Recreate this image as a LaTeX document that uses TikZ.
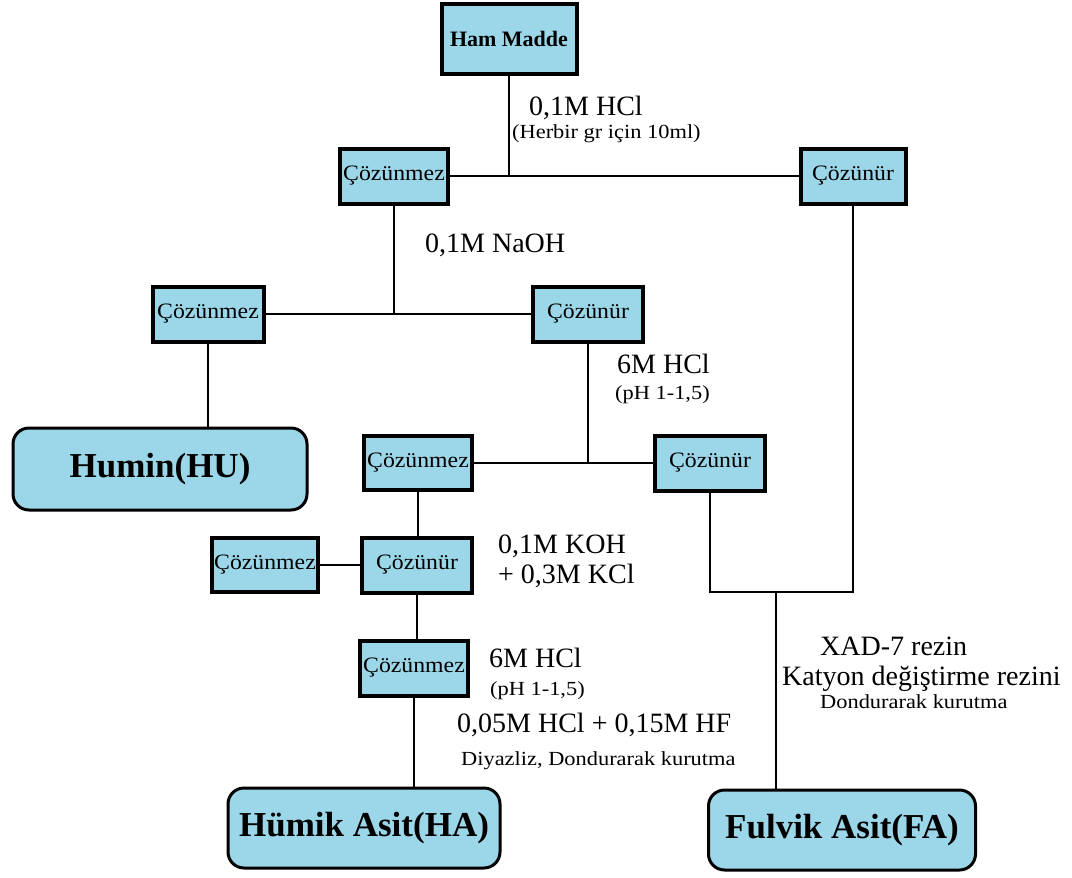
\documentclass[tikz,border=0pt]{standalone}
\usepackage{fontspec}
\setmainfont{Liberation Serif}
\newfontfamily\widefont[FakeStretch=1.12]{Liberation Serif}
\newfontfamily\boxfont[FakeStretch=1.08]{Liberation Serif}
\definecolor{boxblue}{RGB}{155,215,232}
\begin{document}
\begin{tikzpicture}[x=1pt,y=-1pt,
  box/.style={draw, line width=4pt, fill=boxblue, minimum width=108pt, minimum height=55pt, inner sep=0pt, font=\boxfont\fontsize{22}{24}\selectfont},
  final/.style={draw, line width=3pt, fill=boxblue, rounded corners=16pt, inner sep=0pt, font=\bfseries\fontsize{35}{40}\selectfont},
  lbl/.style={anchor=base west, inner sep=0pt, font=\fontsize{28}{32}\selectfont},
  sm/.style={anchor=base west, inner sep=0pt, font=\widefont\fontsize{20}{22}\selectfont},
  conn/.style={line width=2.5pt}]
\useasboundingbox (0,0) rectangle (1072,878);
% nodes
\node[box, minimum width=135pt, minimum height=70pt, font=\bfseries\fontsize{22}{26}\selectfont] (ham) at (509,39) {Ham Madde};
\node[box] (cz1) at (394,176) {Çözünmez};
\node[box, minimum width=105pt] (cr1) at (853,176) {Çözünür};
\node[box, minimum width=111pt] (cz2) at (208,314) {Çözünmez};
\node[box, minimum width=110pt] (cr2) at (588,314) {Çözünür};
\node[final, minimum width=294pt, minimum height=82pt] (hu) at (160,469) {Humin(HU)};
\node[box, minimum height=54pt] (cz3) at (418,463) {Çözünmez};
\node[box, minimum width=110pt] (cr3) at (710,463) {Çözünür};
\node[box, minimum width=106pt, minimum height=54pt] (cz4) at (265,565) {Çözünmez};
\node[box, minimum width=110pt] (cr4) at (417,565) {Çözünür};
\node[box] (cz5) at (414,668) {Çözünmez};
\node[final, minimum width=272pt, minimum height=80pt] (ha) at (364,828) {Hümik Asit(HA)};
\node[final, minimum width=267pt, minimum height=80pt] (fa) at (842,830) {Fulvik Asit(FA)};
% labels
\node[lbl] (l1) at (529,115) {0,1M HCl};
\node[sm] (l1b) at (512,138) {(Herbir gr için 10ml)};
\node[lbl] (l2) at (425,252) {0,1M NaOH};
\node[lbl] (l3) at (617,373) {6M HCl};
\node[sm] (l3b) at (615,399) {(pH 1-1,5)};
\node[lbl] (l4) at (498,553) {0,1M KOH};
\node[lbl] (l4b) at (498,583) {+ 0,3M KCl};
\node[lbl] (l5) at (489,667) {6M HCl};
\node[sm] (l5b) at (490,695) {(pH 1-1,5)};
\node[lbl] (l6) at (457,732) {0,05M HCl + 0,15M HF};
\node[sm] (l6b) at (461,765) {Diyazliz, Dondurarak kurutma};
\node[lbl] (l7) at (820,655) {XAD-7 rezin};
\node[lbl] (l7b) at (782,685) {Katyon değiştirme rezini};
\node[sm] (l7c) at (820,708) {Dondurarak kurutma};
% connectors
\coordinate (j) at (776,592);
\draw[conn] (cz1.east) -- (cr1.west);
\draw[conn] (ham.south) -- (ham.south |- cz1.east);
\draw[conn] (cz2.east) -- (cr2.west);
\draw[conn] (cz1.south) -- (cz1.south |- cz2.east);
\draw[conn] (cz2.south) -- (cz2.south |- hu.north);
\draw[conn] (cz3.east) -- (cr3.west);
\draw[conn] (cr2.south) -- (cr2.south |- cz3.east);
\draw[conn] (cz3.south) -- (cz3.south |- cr4.north);
\draw[conn] (cz4.east) -- (cr4.west);
\draw[conn] (cr4.south) -- (cr4.south |- cz5.north);
\draw[conn] (cz5.south) -- (cz5.south |- ha.north);
\draw[conn] (cr3.south) |- (j) -| (cr1.south);
\draw[conn] (j) -- (j |- fa.north);
\end{tikzpicture}
\end{document}
